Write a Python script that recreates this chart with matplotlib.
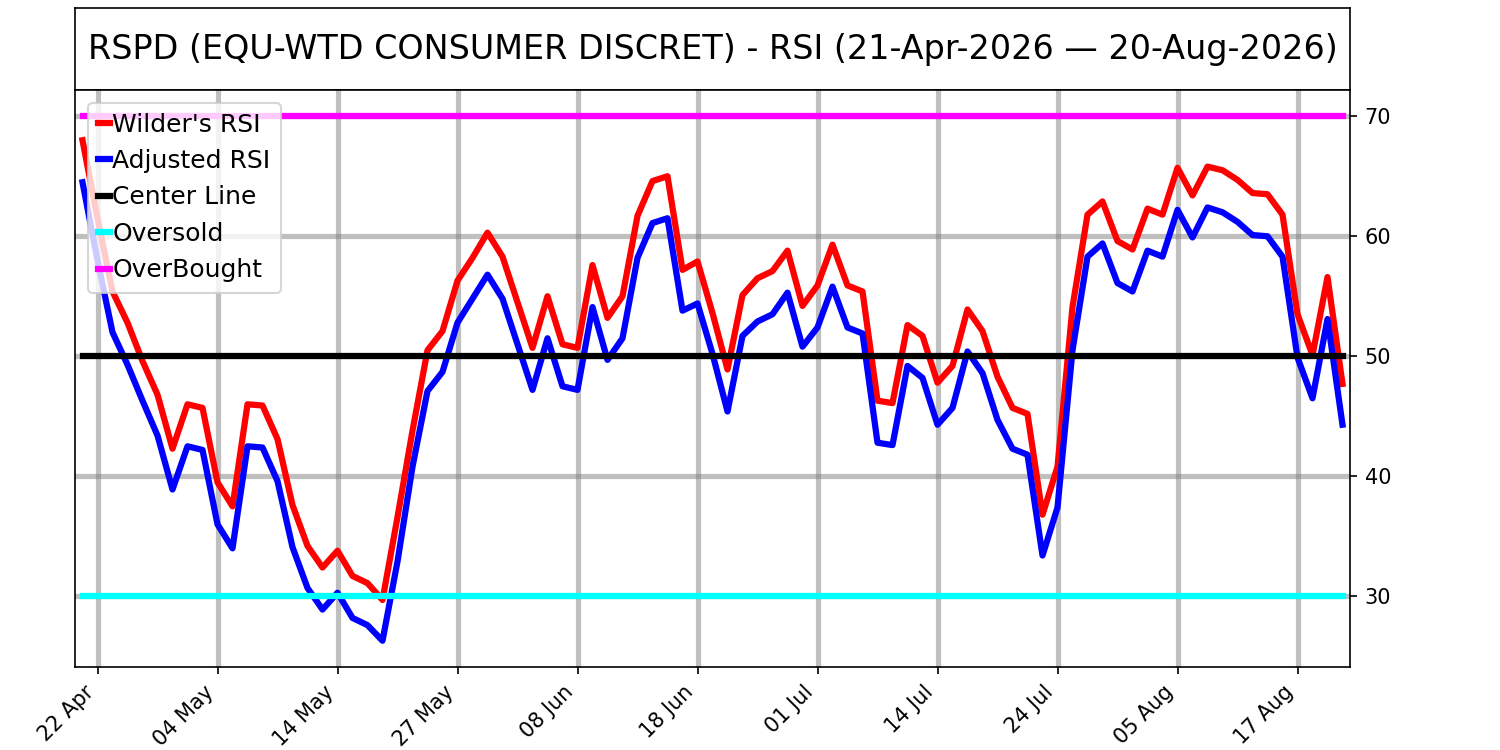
"""RSI chart for RSPD with Wilder's and adjusted RSI"""

import numpy as np
import pandas as pd
import matplotlib
matplotlib.use('Agg')
import matplotlib.pyplot as plt


# Chart data
symbol: str = 'RSPD (EQU-WTD CONSUMER DISCRET)'
start_date: str = '2026-04-21'
end_date: str = '2026-08-20'
holidays: list[str] = ['2026-05-25', '2026-06-19', '2026-07-03']   # market closed

wilder_rsi: list[float] = [
    68.0, 61.5, 55.4, 52.8, 49.6, 46.8, 42.3, 46.0, 45.7, 39.5,
    37.5, 46.0, 45.9, 43.1, 37.6, 34.2, 32.4, 33.8, 31.7, 31.1,
    29.7, 36.6, 43.8, 50.5, 52.1, 56.3, 58.2, 60.3, 58.3, 54.5,
    50.7, 55.0, 51.0, 50.7, 57.6, 53.2, 55.0, 61.7, 64.6, 65.0,
    57.2, 57.9, 53.6, 48.9, 55.1, 56.5, 57.1, 58.8, 54.2, 55.9,
    59.3, 55.9, 55.4, 46.3, 46.1, 52.6, 51.7, 47.8, 49.2, 53.9,
    52.1, 48.3, 45.7, 45.2, 36.8, 40.8, 54.1, 61.8, 62.9, 59.6,
    58.9, 62.3, 61.8, 65.7, 63.4, 65.8, 65.5, 64.7, 63.6, 63.5,
    61.8, 53.5, 50.1, 56.6, 47.7,
]
adjusted_rsi: list[float] = [
    64.5, 58.0, 52.0, 49.3, 46.3, 43.4, 38.9, 42.5, 42.2, 36.0,
    34.0, 42.5, 42.4, 39.6, 34.1, 30.7, 28.9, 30.3, 28.2, 27.6,
    26.3, 32.9, 40.8, 47.1, 48.7, 52.8, 54.8, 56.8, 54.8, 51.0,
    47.2, 51.5, 47.5, 47.2, 54.1, 49.7, 51.5, 58.2, 61.1, 61.5,
    53.8, 54.4, 50.2, 45.4, 51.7, 52.9, 53.5, 55.3, 50.8, 52.4,
    55.8, 52.4, 51.9, 42.8, 42.6, 49.2, 48.2, 44.3, 45.7, 50.4,
    48.6, 44.7, 42.3, 41.8, 33.4, 37.4, 50.5, 58.3, 59.4, 56.1,
    55.4, 58.8, 58.3, 62.2, 59.9, 62.4, 62.0, 61.2, 60.1, 60.0,
    58.3, 49.9, 46.5, 53.1, 44.3,
]
center_level: float = 50
oversold_level: float = 30
overbought_level: float = 70

# Trading days only, so x is just the row number
dates = pd.bdate_range(start_date, end_date, freq='C', holidays=holidays)
x = np.arange(len(dates))
tick_pos = x[1::8]
tick_labels = [d.strftime('%d %b') for d in dates[1::8]]

fig = plt.figure(figsize=(10, 5), dpi=150)

# Title sits in its own boxed axes above the chart
title_ax = fig.add_axes([0.05, 0.88, 0.85, 0.109])
title_ax.set_xticks([])
title_ax.set_yticks([])
title_start = dates[0].strftime('%d-%b-%Y')
title_end = dates[-1].strftime('%d-%b-%Y')
title_ax.text(0.5, 0.5, f'{symbol} - RSI ({title_start} \u2014 {title_end})',
              ha='center', va='center', fontsize=16, transform=title_ax.transAxes)

ax = fig.add_axes([0.05, 0.1107, 0.85, 0.7693])
ax.plot(x, wilder_rsi, color='red', lw=3, label="Wilder's RSI")
ax.plot(x, adjusted_rsi, color='blue', lw=3, label='Adjusted RSI')
ax.plot(x, [center_level] * len(x), color='black', lw=3, label='Center Line')
ax.plot(x, [oversold_level] * len(x), color='cyan', lw=3, label='Oversold')
ax.plot(x, [overbought_level] * len(x), color='magenta', lw=3, label='OverBought')

ax.set_xlim(-0.5, len(x) - 0.5)
ax.set_yticks([30, 40, 50, 60, 70])
ax.yaxis.tick_right()
ax.set_xticks(tick_pos)
ax.set_xticklabels(tick_labels, rotation=45, ha='right')
ax.grid(True, color='gray', alpha=0.5, lw=2.5)
ax.set_axisbelow(True)

ax.legend(loc='upper left', fontsize=12, handlelength=0.5, handletextpad=0.1)

fig.savefig('out.png', dpi=150)
